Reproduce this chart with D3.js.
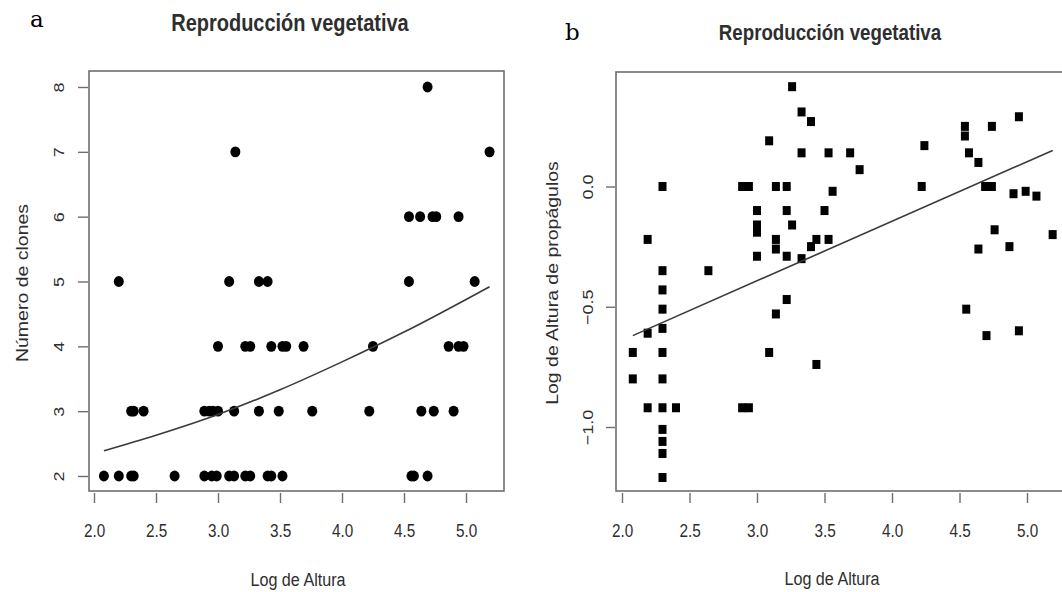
<!DOCTYPE html>
<html>
<head>
<meta charset="utf-8">
<script src="https://cdn.jsdelivr.net/npm/d3@7"></script>
<style>
  body { margin: 0; background: #fff; }
  svg { display: block; }
</style>
</head>
<body>
<div id="chart"></div>
<script>
// panel a: Número de clones vs Log de Altura
const clonesAltura = [
  4.69,
  3.14, 5.19,
  4.54, 4.63, 4.73, 4.76, 4.94,
  2.20, 3.09, 3.33, 3.40, 4.54, 5.07,
  3.00, 3.22, 3.26, 3.43, 3.52, 3.55, 3.69, 4.25, 4.86, 4.94, 4.98,
  2.30, 2.32, 2.40, 2.89, 2.93, 2.96, 3.00, 3.13, 3.33, 3.49, 3.76, 4.22, 4.64, 4.74, 4.90,
  2.08, 2.20, 2.30, 2.32, 2.65, 2.89, 2.95, 2.99, 3.09, 3.13, 3.22, 3.26, 3.40, 3.43, 3.52, 4.56, 4.58, 4.69
];
const clonesNum = [
  8,
  7, 7,
  6, 6, 6, 6, 6,
  5, 5, 5, 5, 5, 5,
  4, 4, 4, 4, 4, 4, 4, 4, 4, 4, 4,
  3, 3, 3, 3, 3, 3, 3, 3, 3, 3, 3, 3, 3, 3, 3,
  2, 2, 2, 2, 2, 2, 2, 2, 2, 2, 2, 2, 2, 2, 2, 2, 2, 2
];
// fitted curve
const fitAx = [2.08, 2.5, 3.0, 3.5, 4.0, 4.5, 5.19];
const fitAy = [2.39, 2.63, 2.95, 3.33, 3.76, 4.22, 4.92];

// panel b: Log de Altura de propágulos vs Log de Altura
const propAltura = [
  3.26, 3.09, 2.30, 2.89, 2.94, 3.14, 3.22, 3.00, 3.22, 3.00, 3.00, 3.26, 2.19, 3.14, 3.14, 3.00, 3.22, 2.30, 2.64,
  3.33, 3.40, 3.33, 3.53, 3.69, 3.76, 4.24, 4.22, 4.54, 4.54, 4.74, 4.94, 4.57, 4.64, 4.69, 4.74, 4.90, 4.99, 5.07,
  3.56, 3.50, 4.76, 5.19, 3.44, 3.53, 3.40, 3.33, 4.64, 4.87,
  2.30, 2.30, 2.30, 2.30, 2.30, 2.30, 2.30, 2.30, 2.30, 2.30, 2.19, 2.08, 2.08, 2.19, 2.40, 2.89, 2.94, 3.22, 3.14, 3.09,
  4.55, 4.70, 4.94, 3.44
];
const propLog = [
  0.415, 0.19, 0.0, 0.0, 0.0, 0.0, 0.0, -0.10, -0.10, -0.16, -0.19, -0.16, -0.22, -0.22, -0.26, -0.29, -0.29, -0.35, -0.35,
  0.31, 0.27, 0.14, 0.14, 0.14, 0.07, 0.17, 0.0, 0.25, 0.21, 0.25, 0.29, 0.14, 0.10, 0.0, 0.0, -0.03, -0.02, -0.04,
  -0.02, -0.10, -0.18, -0.20, -0.22, -0.22, -0.25, -0.30, -0.26, -0.25,
  -0.43, -0.51, -0.59, -0.69, -0.80, -0.92, -1.01, -1.06, -1.11, -1.21, -0.61, -0.69, -0.80, -0.92, -0.92, -0.92, -0.92, -0.47, -0.53, -0.69,
  -0.51, -0.62, -0.60, -0.74
];
const fitBx = [2.08, 5.19];
const fitBy = [-0.62, 0.15];

const xTicks = [2.0, 2.5, 3.0, 3.5, 4.0, 4.5, 5.0];
const yTicksA = [2, 3, 4, 5, 6, 7, 8];
const yTicksB = [-1.0, -0.5, 0.0];

const W = 1062, H = 592;
const SX = 0.85;           // text in the picture is a bit narrow
const boxColor = "#6e6e6e";
const textColor = "#2e2e2e";
const font = "'Liberation Sans', Arial, sans-serif";

const svg = d3.select("#chart").append("svg")
  .attr("width", W).attr("height", H)
  .style("font-family", font);

function hText(x, y, str, size, bold) {
  svg.append("text")
    .attr("transform", `translate(${x},${y}) scale(${SX},1)`)
    .attr("text-anchor", "middle")
    .attr("font-size", size)
    .attr("font-weight", bold ? "bold" : "normal")
    .attr("fill", textColor)
    .text(str);
}

function vText(x, y, str, size) {
  svg.append("text")
    .attr("transform", `translate(${x},${y}) scale(${SX},1) rotate(-90)`)
    .attr("text-anchor", "middle")
    .attr("font-size", size)
    .attr("fill", textColor)
    .text(str);
}

function drawPanel(p) {
  const g = svg.append("g");

  // box
  g.append("rect")
    .attr("x", p.box[0]).attr("y", p.box[1])
    .attr("width", p.box[2] - p.box[0]).attr("height", p.box[3] - p.box[1])
    .attr("fill", "none").attr("stroke", boxColor).attr("stroke-width", 1.6);

  // x axis
  const xa = g.append("g")
    .attr("transform", `translate(0,${p.box[3] + 2})`)
    .call(d3.axisBottom(p.x).tickValues(xTicks).tickSize(10).tickFormat(d3.format(".1f")));
  xa.select(".domain").remove();
  xa.selectAll("line").attr("stroke", boxColor).attr("stroke-width", 1.4);
  xa.selectAll("text")
    .attr("y", 44).attr("dy", 0)
    .attr("transform", `scale(${SX},1)`)
    .attr("font-size", 18).attr("font-family", font).attr("fill", textColor);

  // y axis
  const ya = g.append("g")
    .attr("transform", `translate(${p.box[0] - 1},0)`)
    .call(d3.axisLeft(p.y).tickValues(p.yTicks).tickSize(p.tickLen).tickFormat(p.yFormat));
  ya.select(".domain").remove();
  ya.selectAll("line").attr("stroke", boxColor).attr("stroke-width", 1.4);
  ya.selectAll("text")
    .attr("x", 0).attr("y", 0).attr("dy", 0)
    .attr("text-anchor", "middle")
    .attr("transform", `translate(${-p.labelOff},0) scale(${SX},1) rotate(-90)`)
    .attr("font-size", 18).attr("font-family", font).attr("fill", textColor);

  // clip marks to the visible box
  const clipId = "clip-" + p.id;
  g.append("clipPath").attr("id", clipId)
    .append("rect")
    .attr("x", p.box[0]).attr("y", p.box[1])
    .attr("width", p.box[2] - p.box[0]).attr("height", p.box[3] - p.box[1]);

  const marks = g.append("g").attr("clip-path", `url(#${clipId})`);

  const pts = p.xs.map((v, i) => ({ x: v, y: p.ys[i] }));
  if (p.shape === "circle") {
    marks.selectAll("ellipse").data(pts).join("ellipse")
      .attr("cx", d => p.x(d.x)).attr("cy", d => p.y(d.y))
      .attr("rx", 5).attr("ry", 5.4)
      .attr("fill", "#000");
  } else {
    marks.selectAll("rect.pt").data(pts).join("rect")
      .attr("class", "pt")
      .attr("x", d => p.x(d.x) - 4).attr("y", d => p.y(d.y) - 4.5)
      .attr("width", 8).attr("height", 9)
      .attr("fill", "#000");
  }

  const fit = p.fitX.map((v, i) => ({ x: v, y: p.fitY[i] }));
  const line = d3.line()
    .x(d => p.x(d.x))
    .y(d => p.y(d.y))
    .curve(d3.curveMonotoneX);
  marks.append("path")
    .datum(fit)
    .attr("d", line)
    .attr("fill", "none")
    .attr("stroke", "#3a3a3a")
    .attr("stroke-width", 1.6);
}

// panel a
drawPanel({
  id: "a",
  box: [89, 71, 504, 491],
  x: d3.scaleLinear().domain([2, 5]).range([94, 466]),
  y: d3.scaleLinear().domain([2, 8]).range([476, 87]),
  yTicks: yTicksA,
  yFormat: d3.format("d"),
  tickLen: 10,
  labelOff: 24,
  xs: clonesAltura, ys: clonesNum,
  shape: "circle",
  fitX: fitAx, fitY: fitAy
});

// panel b
drawPanel({
  id: "b",
  box: [616, 72, 1066, 491],
  x: d3.scaleLinear().domain([2, 5]).range([622, 1027]),
  y: d3.scaleLinear().domain([-1, 0]).range([427, 186.5]),
  yTicks: yTicksB,
  yFormat: d3.format(".1f"),
  tickLen: 9,
  labelOff: 22,
  xs: propAltura, ys: propLog,
  shape: "square",
  fitX: fitBx, fitY: fitBy
});

// titles and axis labels
hText(290, 31, "Reproducción vegetativa", 23.5, true);
hText(830, 40, "Reproducción vegetativa", 22, true);
hText(298, 586, "Log de Altura", 19, false);
hText(832, 585, "Log de Altura", 19, false);
vText(28, 283, "Número de clones", 19.5);
vText(558, 283, "Log de Altura de propágulos", 19.5);

// panel letters
svg.append("text")
  .attr("x", 30).attr("y", 27)
  .attr("font-family", "'DejaVu Serif', 'Liberation Serif', serif")
  .attr("font-size", 23).attr("fill", "#000")
  .text("a");
svg.append("text")
  .attr("x", 565).attr("y", 40)
  .attr("font-family", "'DejaVu Serif', 'Liberation Serif', serif")
  .attr("font-size", 23).attr("fill", "#000")
  .text("b");
</script>
</body>
</html>
